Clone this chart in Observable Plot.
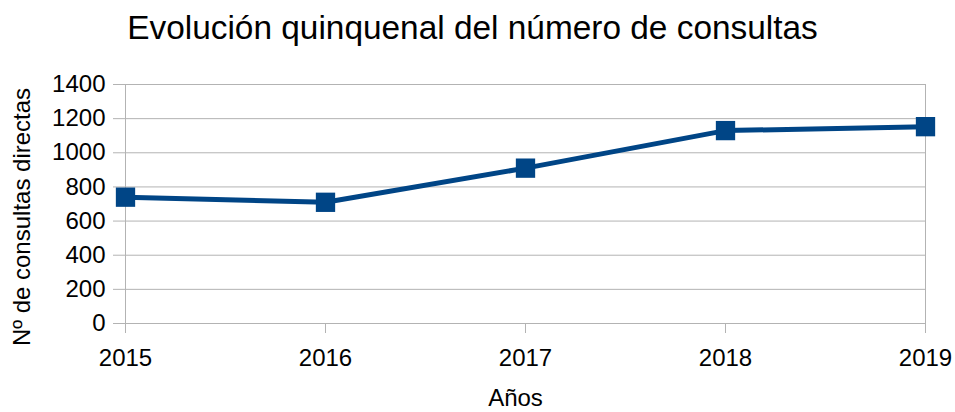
<!DOCTYPE html>
<html><head><meta charset="utf-8">
<script src="https://cdn.jsdelivr.net/npm/d3@7"></script>
<script src="https://cdn.jsdelivr.net/npm/@observablehq/plot@0.6"></script>
<style>
body{margin:0;background:#fff;font-family:"Liberation Sans",Arial,sans-serif;}
#title{width:945px;padding-right:10px;height:48px;padding-top:8px;line-height:40px;font-size:33.4px;text-align:center;color:#000;white-space:nowrap;}
#chart svg{display:block;}
</style></head><body>
<div id="title"></div>
<div id="chart"></div>
<script>
const chartTitle = "Evolución quinquenal del número de consultas";
const years = ["2015", "2016", "2017", "2018", "2019"];
const consultas = [740, 710, 910, 1130, 1153];
const yTicks = [0, 200, 400, 600, 800, 1000, 1200, 1400];
const xLabel = "Años";
const yLabel = "Nº de consultas directas";

const data = years.map((y, i) => ({year: y, value: consultas[i]}));
document.getElementById("title").textContent = chartTitle;

const grid = "#b3b3b3";
const blue = "#004586";
const font = "Liberation Sans, Arial, sans-serif";
const fs = 24;

const chart = Plot.plot({
  width: 955,
  height: 356,
  marginTop: 28,
  marginBottom: 89,
  marginLeft: 124,
  marginRight: 30,
  style: {fontFamily: font, fontSize: fs + "px", color: "#000", background: "#fff", overflow: "visible"},
  x: {type: "point", domain: years, padding: 0},
  y: {domain: [0, 1400]},
  marks: [
    Plot.gridY(yTicks, {stroke: grid, strokeOpacity: 1, strokeWidth: 1}),
    Plot.ruleX([years[0], years[years.length - 1]], {stroke: grid, strokeWidth: 1}),
    Plot.axisY(yTicks, {tickSize: 11, tickPadding: 8, stroke: grid, strokeOpacity: 1, label: null, fontSize: fs, tickFormat: d => String(d)}),
    Plot.axisX(years, {tickSize: 10, tickPadding: 15, stroke: grid, strokeOpacity: 1, label: null, fontSize: fs}),
    Plot.line(data, {x: "year", y: "value", stroke: blue, strokeWidth: 5}),
    Plot.dot(data, {x: "year", y: "value", symbol: "square", r: 10.9, fill: blue, stroke: "none"}),
    Plot.text([yLabel], {text: d => d, frameAnchor: "left", rotate: -90, dx: -102, dy: 13, fontSize: fs, fill: "#000", lineAnchor: "middle", textAnchor: "middle"}),
    Plot.text([xLabel], {text: d => d, frameAnchor: "bottom", dx: -9.5, dy: 75, fontSize: fs, fill: "#000", lineAnchor: "middle", textAnchor: "middle"})
  ]
});
document.getElementById("chart").appendChild(chart);
</script>
</body></html>
